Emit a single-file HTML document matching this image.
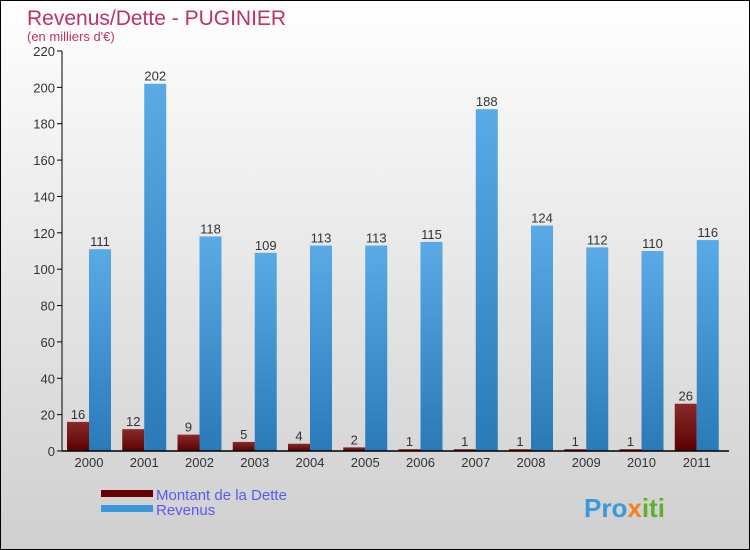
<!DOCTYPE html>
<html><head><meta charset="utf-8"><style>
body{margin:0}
#c{position:relative;width:748px;height:548px;border:1px solid #000;background:linear-gradient(#fff,#f0f0f0 30%,#cfcfcf);font-family:"Liberation Sans",sans-serif;overflow:hidden}
</style></head><body>
<div id="c">
<svg width="748" height="548" id="s">
<defs>
<linearGradient id="gr" x1="0" y1="0" x2="0" y2="1"><stop offset="0" stop-color="#5aaae6"/><stop offset="1" stop-color="#2a7ab8"/></linearGradient>
<linearGradient id="gd" x1="0" y1="0" x2="0" y2="1"><stop offset="0" stop-color="#8a2a2a"/><stop offset="1" stop-color="#5a0000"/></linearGradient>
</defs>
<text x="26" y="24" font-size="21" fill="#c0306a">Revenus/Dette - PUGINIER</text>
<text x="26" y="40" font-size="13" fill="#c0306a">(en milliers d'€)</text>
<g id="g"></g>
<rect x="100" y="489" width="52" height="7" fill="#6a0000"/>
<rect x="100" y="504" width="52" height="7" fill="#3a98dc"/>
<text x="155" y="499" font-size="15" fill="#5a5aee">Montant de la Dette</text>
<text x="155" y="514" font-size="15" fill="#5a5aee">Revenus</text>
<text x="583" y="516" font-size="26" font-weight="bold" fill="#3a98dc">Pro<tspan fill="#f08020">x</tspan><tspan fill="#60b030">iti</tspan></text>
</svg>
</div>
<script>
const years=["2000","2001","2002","2003","2004","2005","2006","2007","2008","2009","2010","2011"];
const dette=[16,12,9,5,4,2,1,1,1,1,1,26];
const revenus=[111,202,118,109,113,113,115,188,124,112,110,116];
const ticks=[0,20,40,60,80,100,120,140,160,180,200,220];
const NS="http://www.w3.org/2000/svg";
const g=document.getElementById('g');
const X0=61,Y0=450,H=400,MAX=220,GW=55.25;
const y=v=>Y0-v/MAX*H;
const gx=i=>X0+i*GW;
function mk(t,a,txt){const e=document.createElementNS(NS,t);for(const k in a)e.setAttribute(k,a[k]);if(txt!==undefined)e.textContent=txt;g.appendChild(e);return e;}
ticks.forEach(t=>{
 const l=mk('line',{x1:X0-5,x2:X0,y1:y(t),y2:y(t),stroke:'#000'});
 
 
 const tx=mk('text',{x:X0-7,y:y(t)+5,'font-size':13,fill:'#333','text-anchor':'end'},t);
 
 
});
years.forEach((yr,i)=>{
 const s=gx(i);
 const d=mk('rect',{x:s+5,y:y(dette[i]),width:22,height:Y0-y(dette[i]),fill:'url(#gd)'});
 
 
 const r=mk('rect',{x:s+27,y:y(revenus[i]),width:22,height:Y0-y(revenus[i]),fill:'url(#gr)'});
 
 
 const dl=mk('text',{x:s+16,y:y(dette[i])-3,'font-size':13,fill:'#333','text-anchor':'middle'},dette[i]);
 
 
 const rl=mk('text',{x:s+38,y:y(revenus[i])-3,'font-size':13,fill:'#333','text-anchor':'middle'},revenus[i]);
 
 
 const xl=mk('text',{x:s+27,y:Y0+16,'font-size':13,fill:'#333','text-anchor':'middle'},yr);
 
 
});
const ya=mk('line',{x1:X0,x2:X0,y1:y(MAX),y2:Y0,stroke:'#000'});


const xa=mk('line',{x1:X0,x2:728,y1:Y0,y2:Y0,stroke:'#000','stroke-width':1.5});


</script>
</body></html>
